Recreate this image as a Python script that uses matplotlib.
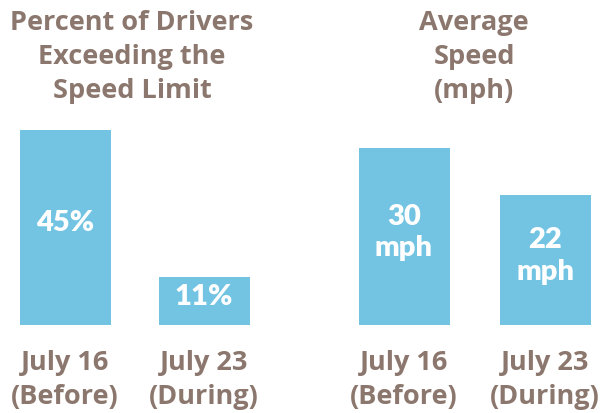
import matplotlib.pyplot as plt

# data
dates = ['July 16\n(Before)', 'July 23\n(During)']
pct_exceeding = [45, 11]
avg_speed = [30, 22]
pct_labels = ['45%', '11%']
speed_labels = ['30\nmph', '22\nmph']

brown = '#8b776d'
blue = '#73c4e3'
plt.rcParams['font.family'] = ['Open Sans', 'DejaVu Sans']

fig = plt.figure(figsize=(6.02, 4.13), dpi=100)
W, H = 602, 413

def make_panel(x0, x1, center0, step, px_per_unit, values, labels, title, title_x):
    ax = fig.add_axes([x0 / W, 88 / H, (x1 - x0) / W, 325 / H])
    pos = list(range(len(values)))
    ax.bar(pos, values, width=91 / step, color=blue)
    ax.set_xlim((x0 - center0) / step, (x1 - center0) / step)
    ax.set_ylim(0, 325 / px_per_unit)
    for p, v, lab in zip(pos, values, labels):
        ax.text(p, v / 2 + 4 / px_per_unit, lab, ha='center', va='center', color='white',
                fontsize=21, fontweight='heavy', family=['Lato', 'DejaVu Sans'],
                linespacing=1.25)
    ax.set_xticks(pos)
    ax.set_xticklabels(dates, fontsize=19.5, fontweight='bold', color=brown,
                       linespacing=1.4)
    ax.tick_params(axis='x', length=0, pad=18)
    ax.set_yticks([])
    for s in ax.spines.values():
        s.set_visible(False)
    fig.text(title_x / W, 1 - 57 / H, title, ha='center', va='center',
             fontsize=19.5, fontweight='bold', color=brown, linespacing=1.4)
    return ax

make_panel(0, 300, 65, 139, 4.34, pct_exceeding, pct_labels,
           'Percent of Drivers\nExceeding the\nSpeed Limit', 132)
make_panel(300, 602, 404, 141, 5.9, avg_speed, speed_labels,
           'Average\nSpeed\n(mph)', 474)

plt.savefig('out.png', dpi=100)
